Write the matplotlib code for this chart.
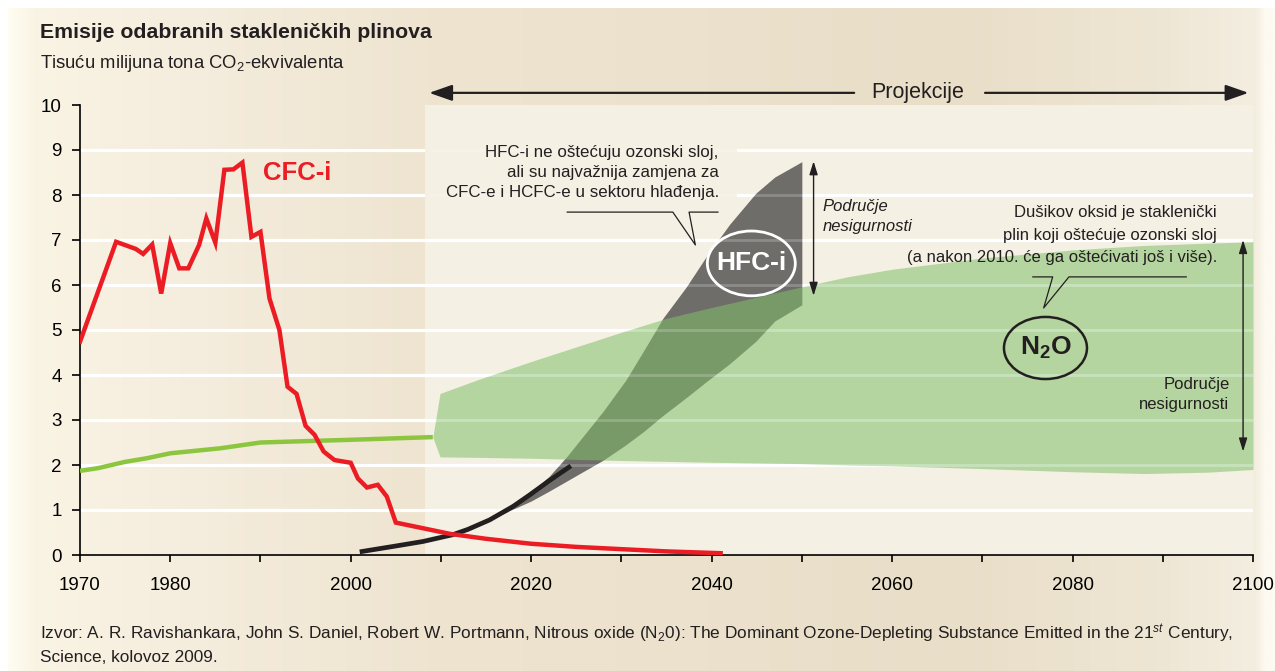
import matplotlib.pyplot as plt
import numpy as np
from matplotlib.patches import Ellipse, Rectangle
from matplotlib.colors import to_rgb

plt.rcParams['font.family'] = ['Liberation Sans', 'DejaVu Sans']
plt.rcParams['mathtext.fontset'] = 'custom'
plt.rcParams['mathtext.rm'] = 'Liberation Sans'
plt.rcParams['mathtext.it'] = 'Liberation Sans:italic'
plt.rcParams['mathtext.bf'] = 'Liberation Sans:bold'

# CFC-i, povijest i projekcija
cfc_god = [1970, 1974, 1976.2, 1977, 1978, 1979, 1980, 1981, 1982, 1983.2, 1984, 1985,
           1986, 1987, 1988, 1989, 1990, 1991, 1992.1, 1993, 1994, 1995, 1996, 1997,
           1998.2, 2000, 2000.8, 2001.8, 2003, 2004, 2005, 2011, 2015, 2020, 2025,
           2030, 2035, 2041]
cfc = [4.74, 6.96, 6.8, 6.69, 6.9, 5.81, 6.93, 6.37, 6.37, 6.89, 7.48, 6.94,
       8.56, 8.57, 8.72, 7.07, 7.18, 5.7, 5.0, 3.74, 3.58, 2.87, 2.67, 2.3,
       2.11, 2.05, 1.7, 1.5, 1.56, 1.3, 0.72, 0.47, 0.36, 0.25, 0.18,
       0.13, 0.08, 0.04]

# N2O, povijest
n2o_god = [1970, 1972, 1975, 1977.4, 1980, 1985.5, 1990, 2000, 2009.1]
n2o = [1.87, 1.93, 2.07, 2.15, 2.26, 2.37, 2.5, 2.56, 2.62]

# N2O, projekcija (raspon)
n2o_p_god = [2009.1, 2009.9, 2014, 2020, 2030, 2035, 2040, 2050, 2055, 2060, 2070, 2080, 2088, 2095, 2100]
n2o_gore = [2.62, 3.59, 3.89, 4.3, 4.95, 5.26, 5.5, 5.96, 6.18, 6.35, 6.6, 6.78, 6.88, 6.93, 6.96]
n2o_dolje = [2.62, 2.18, 2.17, 2.15, 2.1, 2.08, 2.06, 2.03, 2.0, 1.98, 1.92, 1.85, 1.81, 1.84, 1.9]

# HFC-i
hfc_god = [2001, 2005, 2008, 2011.3, 2013, 2015.4, 2018, 2019.8, 2022, 2024.4]
hfc = [0.07, 0.2, 0.3, 0.45, 0.57, 0.78, 1.08, 1.33, 1.65, 1.98]

hfc_p_god = [2016, 2018, 2020, 2022, 2024, 2026, 2028, 2030.5, 2032.5, 2034.6, 2037.2,
             2039.4, 2042, 2044.9, 2047, 2050]
hfc_gore = [0.86, 1.1, 1.4, 1.75, 2.2, 2.7, 3.2, 3.89, 4.55, 5.26, 5.96,
            6.63, 7.35, 8.04, 8.4, 8.74]
hfc_dolje = [0.83, 1.02, 1.2, 1.42, 1.65, 1.88, 2.11, 2.45, 2.75, 3.1, 3.5,
             3.85, 4.25, 4.75, 5.2, 5.56]

n2o_opis = ['Dušikov oksid je staklenički',
            'plin koji oštećuje ozonski sloj',
            '(a nakon 2010. će ga oštećivati još i više).']

fig = plt.figure(figsize=(12.75, 6.71), dpi=100)

# pozadina s prijelazom boja
bg = fig.add_axes([0.006, 0, 0.994, 0.988])
bg.axis('off')
stops_px = [0, 25, 200, 420, 700, 950, 1150, 1250, 1258, 1268]
stops_c = ['#fffdf1', '#faf4e5', '#f4ecdc', '#eee4d0', '#ebe1cc', '#e9dec8',
           '#eee6d4', '#f4eee1', '#fdfaf1', '#fdfaf1']
xs = np.linspace(0, 1268, 600)
rgb = np.array([to_rgb(c) for c in stops_c])
grad = np.stack([np.interp(xs, stops_px, rgb[:, i]) for i in range(3)], axis=-1)
bg.imshow(grad[None, :, :], aspect='auto', extent=[0, 1, 0, 1])
bg.set_xlim(0, 1)
bg.set_ylim(0, 1)

ax = fig.add_axes([80 / 1275, 116 / 671, 1173 / 1275, 450 / 671])
ax.patch.set_alpha(0)
ax.set_xlim(1970, 2100)
ax.set_ylim(0, 10)

# projekcijsko razdoblje
ax.add_patch(Rectangle((2008.2, 0), 91.9, 10, color='#f5f0e4', lw=0, zorder=0.5))

for v in range(1, 10):
    ax.axhline(v, color='white', lw=2.3, zorder=1)

# maska iza teksta o HFC-ima
ax.add_patch(Rectangle((2008.2, 7.5), 34.6, 2.0, color='#f5f0e4', lw=0, zorder=1.5))

ax.fill_between(hfc_p_god, hfc_dolje, hfc_gore, color='#605f5d', alpha=0.9, lw=0, zorder=2)
ax.fill_between(n2o_p_god, n2o_dolje, n2o_gore, color='#81bf68', alpha=0.55, lw=0, zorder=2.5)
for v in range(1, 10):
    ax.plot([2009, 2100], [v, v], color='white', lw=2.0, alpha=0.2, zorder=3)

ax.plot(n2o_god, n2o, color='#8cc63f', lw=3.2, zorder=4, solid_capstyle='butt')
ax.plot(cfc_god, cfc, color='#ec1c24', lw=3.2, zorder=4.5, solid_joinstyle='miter')
ax.plot(hfc_god, hfc, color='#231f20', lw=3.4, zorder=4.2, solid_capstyle='butt')

# osi
for s in ['top', 'right']:
    ax.spines[s].set_visible(False)
ax.spines['left'].set_linewidth(1.2)
ax.spines['bottom'].set_linewidth(1.2)
ax.set_yticks(range(0, 11))
ax.set_xticks(range(1970, 2101, 10))
ax.set_xticklabels([str(g) if g in (1970, 1980, 2000, 2020, 2040, 2060, 2080, 2100) else ''
                    for g in range(1970, 2101, 10)])
ax.tick_params(axis='y', direction='out', length=6, width=1.2, pad=7, labelsize=13.5)
ax.tick_params(axis='x', direction='out', length=5, width=1.2, pad=11, labelsize=13.5)

# naslovi
fig.text(40 / 1275, 1 - 33 / 671, 'Emisije odabranih stakleničkih plinova', fontsize=15.3,
         fontweight='bold', va='center', ha='left', color='#231f20')
fig.text(40 / 1275, 1 - 64 / 671, 'Tisuću milijuna tona CO$_2$-ekvivalenta', fontsize=13.3,
         va='center', ha='left', color='#231f20')

# projekcije
ax.text(2062.8, 10.27, 'Projekcije', fontsize=15.5, ha='center', va='center', color='#231f20')
ax.annotate('', xy=(2008.7, 10.27), xytext=(2055.8, 10.27), annotation_clip=False,
            arrowprops=dict(arrowstyle='-|>,head_length=1.0,head_width=0.35', color='#231f20',
                            lw=1.6, mutation_scale=14, shrinkA=0, shrinkB=0))
ax.annotate('', xy=(2099.5, 10.27), xytext=(2070.3, 10.27), annotation_clip=False,
            arrowprops=dict(arrowstyle='-|>,head_length=1.0,head_width=0.35', color='#231f20',
                            lw=1.6, mutation_scale=14, shrinkA=0, shrinkB=0))

ax.text(1990.3, 8.48, 'CFC-i', fontsize=18.5, fontweight='bold', color='#ec1c24',
        ha='left', va='center', zorder=5)

# HFC napomena
ax.text(2040.8, 8.5, 'HFC-i ne oštećuju ozonski sloj,\nali su najvažnija zamjena za\n'
        'CFC-e i HCFC-e u sektoru hlađenja.', fontsize=12.2, ha='right', va='center',
        multialignment='right', linespacing=1.45, color='#231f20', zorder=5)
ax.plot([2024.0, 2035.7, 2038.2, 2037.5, 2040.7], [7.62, 7.62, 6.89, 7.62, 7.62],
        color='#231f20', lw=0.9, zorder=5)
ax.add_patch(Ellipse((2044.4, 6.48), 9.75, 1.44, fill=False, ec='white', lw=2, zorder=5))
ax.text(2044.4, 6.48, 'HFC-i', fontsize=19, fontweight='bold', color='white',
        ha='center', va='center', zorder=5)
ax.annotate('', xy=(2051.3, 8.75), xytext=(2051.3, 5.76),
            arrowprops=dict(arrowstyle='<|-|>,head_length=0.8,head_width=0.25', color='#231f20',
                            lw=1.0, mutation_scale=10, shrinkA=0, shrinkB=0), zorder=5)
ax.text(2052.3, 7.53, 'Područje\nnesigurnosti', fontsize=12, style='italic', ha='left',
        va='center', linespacing=1.4, color='#231f20', zorder=5)

# N2O napomena, red po red
for red, y in zip(n2o_opis, [7.62, 7.11, 6.62]):
    ax.text(2096.0, y, red, fontsize=12, ha='right', va='center', color='#231f20', zorder=5)
ax.plot([2092.6, 2079.6, 2076.8, 2077.8, 2075.6], [6.18, 6.18, 5.49, 6.18, 6.18],
        color='#231f20', lw=0.9, zorder=5)
ax.add_patch(Ellipse((2077.0, 4.6), 9.2, 1.38, fill=False, ec='#231f20', lw=1.8, zorder=5))
ax.text(2077.0, 4.6, r'$\mathbf{N_2O}$', fontsize=19, color='#231f20',
        ha='center', va='center', zorder=5)
ax.annotate('', xy=(2098.9, 7.0), xytext=(2098.9, 2.3),
            arrowprops=dict(arrowstyle='<|-|>,head_length=0.8,head_width=0.25', color='#231f20',
                            lw=1.0, mutation_scale=10, shrinkA=0, shrinkB=0), zorder=5)
ax.text(2097.4, 3.56, 'Područje\nnesigurnosti', fontsize=12, ha='right', va='center',
        multialignment='right', linespacing=1.4, color='#231f20', zorder=5)

# izvor
fig.text(40 / 1275, 1 - 634 / 671,
         'Izvor: A. R. Ravishankara, John S. Daniel, Robert W. Portmann, Nitrous oxide (N$_2$0): '
         'The Dominant Ozone-Depleting Substance Emitted in the 21$^{\\mathit{st}}$ Century,',
         fontsize=12.4, va='center', ha='left', color='#231f20')
fig.text(40 / 1275, 1 - 657 / 671, 'Science, kolovoz 2009.', fontsize=12.4,
         va='center', ha='left', color='#231f20')

fig.savefig('out.png', dpi=100)
